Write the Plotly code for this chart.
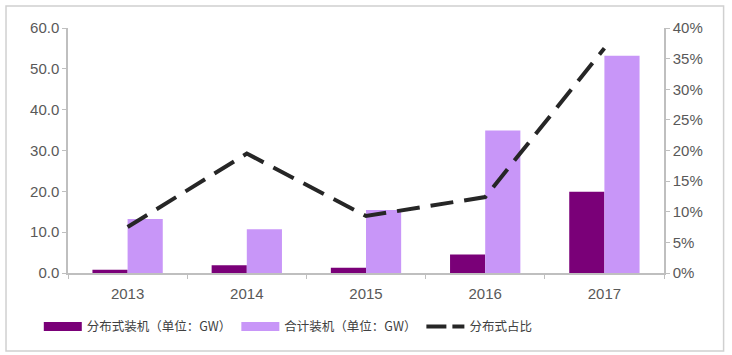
import plotly.graph_objects as go

years = ["2013", "2014", "2015", "2016", "2017"]
distributed = [0.8, 1.9, 1.3, 4.5, 19.9]
total = [13.2, 10.7, 15.4, 34.9, 53.2]
share = [0.075, 0.195, 0.093, 0.124, 0.367]

names = ["分布式装机（单位：GW）", "合计装机（单位：GW）", "分布式占比"]
dark, light, black = "#7a0078", "#c896f8", "#262626"

fig = go.Figure()
fig.add_trace(go.Bar(x=years, y=distributed, name=names[0], showlegend=False,
                     marker=dict(color=dark, line=dict(width=0))))
fig.add_trace(go.Bar(x=years, y=total, name=names[1], showlegend=False,
                     marker=dict(color=light, line=dict(width=0))))
fig.add_trace(go.Scatter(x=years, y=share, name=names[2], yaxis="y2", mode="lines",
                         showlegend=False,
                         line=dict(color=black, width=4, dash="23px,11px")))
# legend entries (wide swatches like the original)
fig.add_trace(go.Scatter(x=[None], y=[None], name=names[0], mode="lines",
                         line=dict(color=dark, width=9)))
fig.add_trace(go.Scatter(x=[None], y=[None], name=names[1], mode="lines",
                         line=dict(color=light, width=9)))
fig.add_trace(go.Scatter(x=[None], y=[None], name=names[2], mode="lines",
                         line=dict(color=black, width=4, dash="20px,6px")))

axis_font = dict(family="Liberation Sans, Arial, sans-serif", size=15, color="#595959")
fig.update_layout(
    width=732, height=355,
    margin=dict(l=68, r=68, t=28, b=82, autoexpand=False),
    paper_bgcolor="white", plot_bgcolor="white",
    barmode="group", bargap=0.41, bargroupgap=0,
    showlegend=True,
    legend=dict(orientation="h", x=-0.049, y=-0.22, xanchor="left", yanchor="middle",
                font=dict(family="Noto Sans CJK SC", size=12.5, color="#404040"),
                itemwidth=38, tracegroupgap=0, traceorder="normal"),
    xaxis=dict(type="category", showline=True, linecolor="#bfbfbf", linewidth=1.5,
               ticks="outside", tickson="boundaries", ticklen=4, tickcolor="#bfbfbf",
               tickfont=axis_font, showgrid=False, ticklabelstandoff=6),
    yaxis=dict(range=[0, 60], dtick=10, tickformat=".1f", showline=True,
               linecolor="#bfbfbf", linewidth=1.5, ticks="outside", ticklen=4,
               tickcolor="#bfbfbf", tickfont=axis_font, showgrid=False, zeroline=False),
    yaxis2=dict(range=[0, 0.4], dtick=0.05, tickformat=".0%", overlaying="y", side="right",
                showline=True, linecolor="#bfbfbf", linewidth=1.5, ticks="outside",
                ticklen=4, tickcolor="#bfbfbf", tickfont=axis_font, showgrid=False,
                zeroline=False),
    shapes=[dict(type="rect", xref="paper", yref="paper", x0=-0.104, x1=1.1,
                 y0=-0.318, y1=1.09, line=dict(color="#d0d0d0", width=1.5))],
)

fig.write_html("out.html", config={"displayModeBar": False},
               post_script="document.body.style.margin='0';")
